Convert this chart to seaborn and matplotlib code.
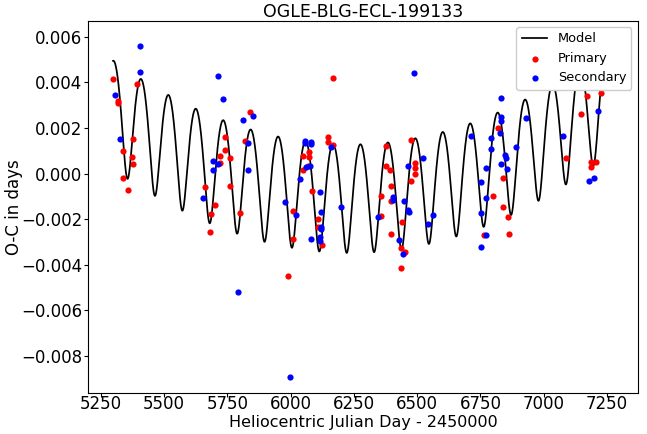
import numpy as np
import pandas as pd
import matplotlib
matplotlib.use("Agg")
import matplotlib.pyplot as plt
import seaborn as sns

# ---- data ----
primary_hjd = [5297.4, 5317.9, 5319.9, 5337.7, 5338.5, 5356.6, 5377.2, 5374.4, 5378.3, 5395.3,
               5662.7, 5684.4, 5683.2, 5702.2, 5721.9, 5720.7, 5740.5, 5742.8, 5762.6, 5761.4,
               5800.1, 5820.6, 5840.4, 5989.3, 6009.4, 6011.0, 6048.5, 6050.5, 6067.4, 6071.4,
               6071.4, 6086.0, 6108.1, 6107.7, 6125.9, 6148.4, 6149.2, 6169.3, 6168.1, 6355.7,
               6355.3, 6377.4, 6378.6, 6393.2, 6396.8, 6395.2, 6398.0, 6436.7, 6437.9, 6439.9,
               6452.5, 6475.4, 6476.6, 6493.2, 6493.2, 6493.2, 6762.5, 6800.0, 6819.7, 6839.5,
               6838.3, 6860.4, 6861.2, 7089.1, 7148.3, 7171.2, 7187.8, 7205.9, 7187.8, 7225.7]
primary_oc = [0.00414, 0.00320, 0.00309, 0.00101, -0.00018, -0.00072, 0.00151, 0.00072, 0.00041, 0.00393,
              -0.00060, -0.00175, -0.00255, -0.00137, 0.00078, 0.00046, 0.00162, 0.00104, 0.00070, -0.00053,
              -0.00173, 0.00141, 0.00269, -0.00450, -0.00286, -0.00164, 0.00018, 0.00079, 0.00034, 0.00096,
              0.00075, -0.00075, -0.00200, -0.00232, -0.00311, 0.00162, 0.00140, 0.00126, 0.00421, -0.00096,
              -0.00186, 0.00123, 0.00034, 0.00017, -0.00053, -0.00119, -0.00264, -0.00328, -0.00416, -0.00212,
              -0.00345, -0.00031, 0.00148, 0.00046, 0.00024, 0.00000, -0.00268, -0.00096, 0.00199, -0.00020,
              -0.00147, -0.00191, -0.00263, 0.00068, 0.00263, 0.00341, 0.00053, 0.00053, 0.00028, 0.00355]

secondary_hjd = [5306.5, 5325.4, 5405.2, 5406.0, 5653.6, 5692.3, 5693.5, 5714.0, 5714.8, 5734.5,
                 5793.0, 5811.5, 5830.5, 5830.5, 5850.2, 5979.4, 5998.3, 6020.4, 6038.6, 6058.4,
                 6058.0, 6082.0, 6081.7, 6062.3, 6077.7, 6116.8, 6120.7, 6119.6, 6119.6, 6080.1,
                 6115.6, 6115.6, 6159.1, 6198.5, 6346.6, 6405.5, 6405.9, 6427.6, 6443.4, 6447.3,
                 6464.7, 6466.7, 6464.3, 6488.0, 6524.7, 6544.5, 6563.8, 6711.9, 6753.4, 6752.6,
                 6752.6, 6771.6, 6773.1, 6773.1, 6792.5, 6792.5, 6830.4, 6830.4, 6832.0, 6828.4,
                 6847.4, 6850.1, 6832.8, 6854.1, 6890.8, 6929.5, 7077.6, 7177.9, 7198.1, 7215.4]
secondary_oc = [0.00343, 0.00152, 0.00447, 0.00560, -0.00105, 0.00057, 0.00018, 0.00042, 0.00428, 0.00329,
                -0.00520, 0.00237, 0.00133, 0.00014, 0.00252, -0.00123, -0.00890, -0.00181, -0.00023, 0.00143,
                0.00136, 0.00140, 0.00130, 0.00027, 0.00034, -0.00080, -0.00168, -0.00235, -0.00243, -0.00285,
                -0.00276, -0.00296, 0.00118, -0.00145, -0.00190, -0.00101, -0.00117, -0.00291, -0.00352, -0.00119,
                -0.00159, -0.00168, 0.00032, 0.00442, 0.00070, -0.00221, -0.00180, 0.00165, -0.00037, -0.00174,
                -0.00320, 0.00025, -0.00108, -0.00270, 0.00158, 0.00108, 0.00333, 0.00247, 0.00230, 0.00177,
                0.00082, 0.00070, 0.00041, 0.00021, 0.00116, 0.00246, 0.00165, -0.00031, -0.00018, 0.00275]

# model parameters (light-travel-time orbit + quadratic trend)
model_start, model_end = 5299.0, 7273.0
period = 108.25
t_peri = 5355.8
ecc = 0.25
semi_amp = 0.00238
vertex_t = 6239.0
vertex_oc = -0.00110
quad = 4.17e-9


def model_curve(t):
    M = 2 * np.pi * (t - t_peri) / period
    E = M.copy()
    for _ in range(30):
        E = E - (E - ecc * np.sin(E) - M) / (1 - ecc * np.cos(E))
    nu = 2 * np.arctan2(np.sqrt(1 + ecc) * np.sin(E / 2), np.sqrt(1 - ecc) * np.cos(E / 2))
    f = -(1 - ecc ** 2) * np.cos(nu) / (1 + ecc * np.cos(nu))
    return vertex_oc + quad * (t - vertex_t) ** 2 + semi_amp * (f - ecc)


t_model = np.linspace(model_start, model_end, 6000)
model_df = pd.DataFrame({"t": t_model, "oc": model_curve(t_model)})
prim_df = pd.DataFrame({"t": primary_hjd, "oc": primary_oc})
sec_df = pd.DataFrame({"t": secondary_hjd, "oc": secondary_oc})

fig = plt.figure(figsize=(6.47, 4.34), dpi=100)
ax = fig.add_axes([0.136, 0.094, 0.850, 0.858])

sns.lineplot(data=model_df, x="t", y="oc", color="black", linewidth=1.25,
             sort=False, estimator=None, ax=ax, label="Model")
sns.scatterplot(data=prim_df, x="t", y="oc", color="red", s=20, linewidth=0,
                ax=ax, label="Primary", zorder=3)
sns.scatterplot(data=sec_df, x="t", y="oc", color="blue", s=20, linewidth=0,
                ax=ax, label="Secondary", zorder=3)

ax.set_xlim(5200, 7372)
ax.set_ylim(-0.00963, 0.0067)
ax.set_xticks([5250, 5500, 5750, 6000, 6250, 6500, 6750, 7000, 7250])
ax.set_yticks([-0.008, -0.006, -0.004, -0.002, 0.0, 0.002, 0.004, 0.006])
ax.yaxis.set_major_formatter(matplotlib.ticker.FuncFormatter(
    lambda v, p: f"{v:.3f}".replace("-", "\u2212")))
ax.tick_params(axis="y", labelsize=12, length=3, pad=1)
ax.tick_params(axis="x", labelsize=12, length=3, pad=-1.5)
ax.set_xlabel("Heliocentric Julian Day - 2450000", fontsize=11.5, labelpad=1)
ax.set_ylabel("O-C in days", fontsize=12, labelpad=-1)
ax.set_title("OGLE-BLG-ECL-199133", fontsize=12.5, pad=2)
ax.legend(loc="upper right", fontsize=9.3, framealpha=1.0)

fig.savefig("out.png", dpi=100)
